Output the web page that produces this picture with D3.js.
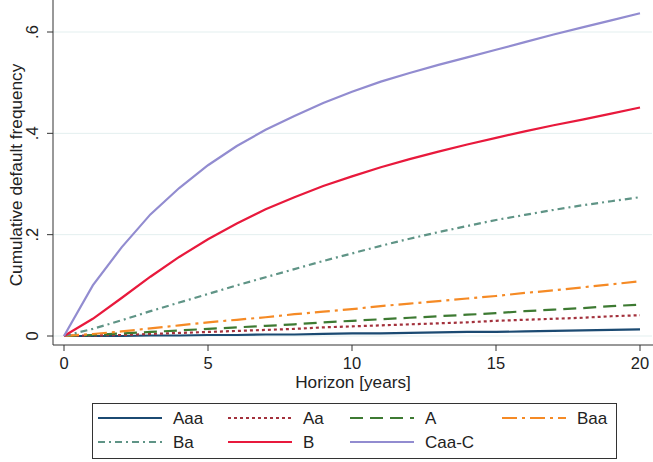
<!DOCTYPE html>
<html>
<head>
<meta charset="utf-8">
<script src="https://cdn.jsdelivr.net/npm/d3@7"></script>
<style>
  body { margin: 0; background: #fff; }
  text { font-family: "Liberation Sans", Arial, sans-serif; fill: #222; }
</style>
</head>
<body>
<div id="chart"></div>
<script>
const years = d3.range(0, 21);
const aaa  = [0, 0, 0, .001, .001, .002, .002, .003, .003, .004, .005, .005, .006, .007, .008, .008, .009, .010, .011, .012, .013];
const aa   = [0, .001, .002, .004, .006, .008, .010, .012, .014, .017, .019, .021, .023, .025, .027, .030, .032, .034, .036, .039, .041];
const a    = [0, .002, .005, .008, .011, .014, .017, .020, .023, .027, .030, .033, .036, .039, .042, .045, .049, .052, .055, .059, .062];
const baa  = [0, .004, .009, .015, .021, .027, .032, .037, .043, .048, .053, .059, .064, .069, .074, .079, .085, .090, .096, .102, .108];
const ba   = [0, .014, .031, .049, .066, .083, .100, .116, .132, .148, .163, .178, .192, .205, .217, .229, .239, .249, .258, .266, .274];
const b    = [0, .034, .075, .117, .156, .191, .222, .250, .274, .296, .315, .333, .349, .364, .378, .391, .404, .416, .427, .439, .451];
const caaC = [0, .100, .175, .240, .292, .337, .375, .407, .434, .460, .482, .502, .519, .535, .550, .565, .580, .595, .609, .623, .637];

const yTicks = [0, .2, .4, .6];
const xTicks = [0, 5, 10, 15, 20];

const series = [
  {name: "Aaa",   values: aaa,  color: "#1b4a72", dash: null},
  {name: "Aa",    values: aa,   color: "#a3313c", dash: "3,3"},
  {name: "A",     values: a,    color: "#3d7a32", dash: "13,7"},
  {name: "Baa",   values: baa,  color: "#f58a25", dash: "15,5,3,5"},
  {name: "Ba",    values: ba,   color: "#5f9486", dash: "7,4,2,4"},
  {name: "B",     values: b,    color: "#e8193c", dash: null},
  {name: "Caa-C", values: caaC, color: "#928cd0", dash: null}
];

const W = 653, H = 462;
const svg = d3.select("#chart").append("svg")
  .attr("width", W).attr("height", H);

const x = d3.scaleLinear().domain([0, 20]).range([64, 640]);
const y = d3.scaleLinear().domain([0, .6]).range([336, 32]);

const axisLeft = 53, axisBottom = 345;

// grid
svg.selectAll(".grid").data(yTicks).enter()
  .append("line")
  .attr("x1", axisLeft).attr("x2", 652)
  .attr("y1", d => y(d)).attr("y2", d => y(d))
  .attr("stroke", "#e3efef").attr("stroke-width", 1);

// axes lines
svg.append("line").attr("x1", axisLeft).attr("x2", axisLeft)
  .attr("y1", 0).attr("y2", axisBottom).attr("stroke", "#333").attr("stroke-width", 1);
svg.append("line").attr("x1", axisLeft).attr("x2", 653)
  .attr("y1", axisBottom).attr("y2", axisBottom).attr("stroke", "#333").attr("stroke-width", 1);

const fmt = d => d === 0 ? "0" : d3.format(".1f")(d).replace(/^0/, "");

// y ticks
const yt = svg.selectAll(".ytick").data(yTicks).enter().append("g")
  .attr("transform", d => `translate(${axisLeft},${y(d)})`);
yt.append("line").attr("x1", 0).attr("x2", -6).attr("stroke", "#333");
yt.append("text")
  .attr("transform", "translate(-15,0) rotate(-90)")
  .attr("text-anchor", "middle")
  .attr("font-size", 16.5)
  .text(fmt);

// x ticks
const xt = svg.selectAll(".xtick").data(xTicks).enter().append("g")
  .attr("transform", d => `translate(${x(d)},${axisBottom})`);
xt.append("line").attr("y1", 0).attr("y2", 6).attr("stroke", "#333");
xt.append("text")
  .attr("y", 24)
  .attr("text-anchor", "middle")
  .attr("font-size", 16.5)
  .text(d => d);

// titles
svg.append("text")
  .attr("x", 353).attr("y", 388)
  .attr("text-anchor", "middle").attr("font-size", 17.2)
  .text("Horizon [years]");
svg.append("text")
  .attr("transform", "translate(22,175) rotate(-90)")
  .attr("text-anchor", "middle").attr("font-size", 17.2)
  .text("Cumulative default frequency");

// lines
const line = d3.line().x((d, i) => x(years[i])).y(d => y(d));
svg.selectAll(".series").data(series).enter()
  .append("path")
  .attr("d", d => line(d.values))
  .attr("fill", "none")
  .attr("stroke", d => d.color)
  .attr("stroke-width", 2.2)
  .attr("stroke-dasharray", d => d.dash);

// legend
svg.append("rect")
  .attr("x", 92.5).attr("y", 403.5).attr("width", 524).attr("height", 55)
  .attr("fill", "#fff").attr("stroke", "#333").attr("stroke-width", 1);
const colX = [98, 228, 350, 502];
const rowY = [418, 442];
const lg = svg.selectAll(".leg").data(series).enter().append("g")
  .attr("transform", (d, i) => `translate(${colX[i % 4]},${rowY[Math.floor(i / 4)]})`);
lg.append("line")
  .attr("x1", 0).attr("x2", 64)
  .attr("stroke", d => d.color)
  .attr("stroke-width", 2.2)
  .attr("stroke-dasharray", d => d.dash);
lg.append("text")
  .attr("x", 75).attr("y", 6)
  .attr("font-size", 17)
  .text(d => d.name);
</script>
</body>
</html>
